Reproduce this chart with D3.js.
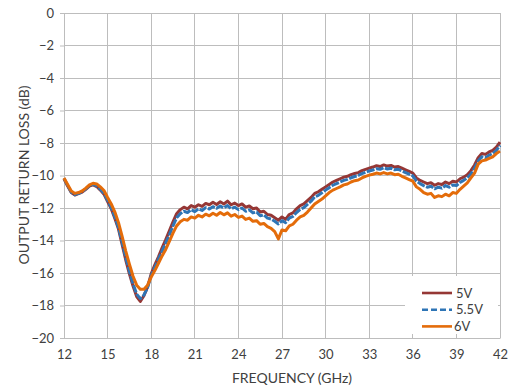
<!DOCTYPE html>
<html><head><meta charset="utf-8">
<script src="https://cdn.jsdelivr.net/npm/d3@7"></script>
<style>html,body{margin:0;padding:0;background:#fff;}svg{display:block;font-family:Lato,"Open Sans",sans-serif;}</style>
</head><body><svg id="c" width="509" height="389"></svg>
<script>
// Frequency grid: 12 to 42 GHz, 0.25 GHz step
const freqStart = 12, freqStep = 0.25;
const xTicks = [12,15,18,21,24,27,30,33,36,39,42];
const yTicks = [0,-2,-4,-6,-8,-10,-12,-14,-16,-18,-20];
const seriesNames = ["5V","5.5V","6V"];
const seriesColors = ["#953735","#2E75B6","#E46C0A"];

const v5 = [-10.20,-10.65,-11.05,-11.20,-11.12,-11.02,-10.85,-10.65,-10.58,-10.68,
-10.90,-11.15,-11.60,-12.05,-12.65,-13.30,-14.25,-15.20,-16.05,-16.80,
-17.45,-17.75,-17.40,-16.85,-16.05,-15.50,-15.00,-14.45,-13.95,-13.40,
-12.85,-12.35,-12.10,-11.95,-12.05,-11.85,-11.95,-11.80,-11.90,-11.72,
-11.80,-11.65,-11.78,-11.62,-11.75,-11.58,-11.80,-11.70,-11.85,-11.75,
-11.95,-11.88,-12.05,-12.00,-12.25,-12.20,-12.40,-12.45,-12.60,-12.75,
-12.55,-12.70,-12.40,-12.30,-12.05,-11.85,-11.75,-11.55,-11.35,-11.10,
-11.00,-10.85,-10.70,-10.55,-10.40,-10.30,-10.20,-10.10,-10.05,-9.95,
-9.88,-9.82,-9.70,-9.62,-9.55,-9.48,-9.40,-9.45,-9.35,-9.42,
-9.38,-9.48,-9.45,-9.55,-9.65,-9.75,-9.85,-10.15,-10.30,-10.40,
-10.50,-10.45,-10.60,-10.50,-10.55,-10.40,-10.50,-10.35,-10.40,-10.20,
-10.10,-9.95,-9.70,-9.35,-8.90,-8.65,-8.70,-8.55,-8.45,-8.25,-7.95];

const v55 = [-10.18,-10.62,-11.02,-11.18,-11.10,-11.00,-10.82,-10.62,-10.55,-10.64,
-10.85,-11.10,-11.52,-11.98,-12.55,-13.20,-14.10,-15.05,-15.90,-16.65,
-17.30,-17.58,-17.35,-16.90,-16.15,-15.65,-15.15,-14.65,-14.15,-13.65,
-13.10,-12.60,-12.35,-12.20,-12.28,-12.10,-12.22,-12.05,-12.15,-11.98,
-12.06,-11.92,-12.02,-11.88,-12.00,-11.85,-12.05,-11.95,-12.10,-12.00,
-12.20,-12.12,-12.30,-12.25,-12.48,-12.42,-12.62,-12.68,-12.82,-12.98,
-12.78,-12.90,-12.62,-12.52,-12.28,-12.08,-11.98,-11.78,-11.58,-11.32,
-11.22,-11.06,-10.90,-10.75,-10.60,-10.50,-10.40,-10.30,-10.24,-10.14,
-10.06,-10.00,-9.88,-9.80,-9.72,-9.66,-9.58,-9.62,-9.52,-9.60,
-9.55,-9.65,-9.62,-9.72,-9.82,-9.92,-10.02,-10.35,-10.50,-10.62,
-10.72,-10.66,-10.82,-10.72,-10.78,-10.62,-10.72,-10.58,-10.62,-10.42,
-10.30,-10.15,-9.90,-9.55,-9.10,-8.85,-8.90,-8.75,-8.65,-8.45,-8.15];

const v6 = [-10.15,-10.55,-10.95,-11.10,-11.05,-10.95,-10.78,-10.58,-10.48,-10.52,
-10.70,-10.92,-11.35,-11.75,-12.25,-12.90,-13.75,-14.65,-15.45,-16.20,
-16.75,-17.00,-17.00,-16.75,-16.25,-15.85,-15.40,-14.95,-14.55,-14.05,
-13.55,-13.10,-12.85,-12.70,-12.75,-12.55,-12.62,-12.45,-12.55,-12.38,
-12.48,-12.32,-12.45,-12.28,-12.42,-12.30,-12.50,-12.40,-12.58,-12.50,
-12.70,-12.62,-12.82,-12.78,-13.00,-12.95,-13.15,-13.25,-13.45,-13.90,
-13.35,-13.40,-13.10,-13.00,-12.75,-12.55,-12.45,-12.25,-12.00,-11.75,
-11.60,-11.45,-11.25,-11.05,-10.90,-10.80,-10.70,-10.58,-10.52,-10.40,
-10.32,-10.28,-10.15,-10.05,-9.98,-9.92,-9.85,-9.90,-9.82,-9.90,
-9.85,-9.95,-9.92,-10.05,-10.15,-10.25,-10.35,-10.70,-10.85,-11.05,
-11.15,-11.10,-11.35,-11.25,-11.30,-11.15,-11.25,-11.05,-11.10,-10.85,
-10.65,-10.45,-10.15,-9.85,-9.30,-9.10,-9.05,-8.95,-8.85,-8.65,-8.50];

const seriesValues = [v5, v55, v6];

const svg = d3.select("#c");
const L = 64, R = 500, T = 13, B = 338;
const x = d3.scaleLinear().domain([12,42]).range([L,R]);
const y = d3.scaleLinear().domain([-20,0]).range([B,T]);
const grid = "#BDBDBD", txt = "#404040";

// gridlines
svg.append("g").selectAll("line").data(xTicks).join("line")
  .attr("x1",d=>x(d)).attr("x2",d=>x(d)).attr("y1",T).attr("y2",B)
  .attr("stroke",grid).attr("stroke-width",1).attr("shape-rendering","crispEdges");
svg.append("g").selectAll("line").data(yTicks).join("line")
  .attr("x1",L).attr("x2",R).attr("y1",d=>y(d)).attr("y2",d=>y(d))
  .attr("stroke",grid).attr("stroke-width",1).attr("shape-rendering","crispEdges");

// y axis
const ya = svg.append("g").attr("transform",`translate(${L},0)`)
  .call(d3.axisLeft(y).tickValues(yTicks).tickSize(4).tickPadding(6).tickFormat(d3.format("d")));
ya.select(".domain").attr("stroke",grid);
ya.selectAll(".tick line").attr("stroke",grid);
ya.selectAll("text").attr("fill",txt).attr("font-size","13px").attr("font-family","Lato,sans-serif");

// x axis
const xa = svg.append("g").attr("transform",`translate(0,${B})`)
  .call(d3.axisBottom(x).tickValues(xTicks).tickSize(0).tickPadding(12).tickFormat(d3.format("d")));
xa.select(".domain").attr("stroke",grid);
xa.selectAll("text").attr("fill",txt).attr("font-size","13px").attr("font-family","Lato,sans-serif");

// series
const line = d3.line().x((d,i)=>x(freqStart + i*freqStep)).y(d=>y(d));
seriesValues.forEach((vals,k)=>{
  svg.append("path").datum(vals).attr("d",line)
    .attr("fill","none").attr("stroke",seriesColors[k]).attr("stroke-width",3)
    .attr("stroke-linejoin","round")
    .attr("stroke-dasharray", k===1 ? "8,1.5" : null);
});

// legend
const lg = svg.append("g");
lg.append("rect").attr("x",405).attr("y",276).attr("width",93).attr("height",58).attr("fill","#fff");
seriesNames.forEach((n,k)=>{
  const yy = 293 + k*16.7;
  lg.append("line").attr("x1",422).attr("x2",452).attr("y1",yy).attr("y2",yy)
    .attr("stroke",seriesColors[k]).attr("stroke-width",2.6)
    .attr("stroke-dasharray", k===1 ? "6,3" : null);
  lg.append("text").attr("x", k===2 ? 454 : 456).attr("y",yy+4.5).text(n)
    .attr("fill",txt).attr("font-size","13px");
});

// axis titles
svg.append("text").attr("x",292).attr("y",383).attr("text-anchor","middle")
  .attr("fill",txt).attr("font-size","14px").text("FREQUENCY (GHz)");
svg.append("text").attr("transform","translate(29,175) rotate(-90)").attr("text-anchor","middle")
  .attr("fill",txt).attr("font-size","14px").text("OUTPUT RETURN LOSS (dB)");
</script></body></html>
